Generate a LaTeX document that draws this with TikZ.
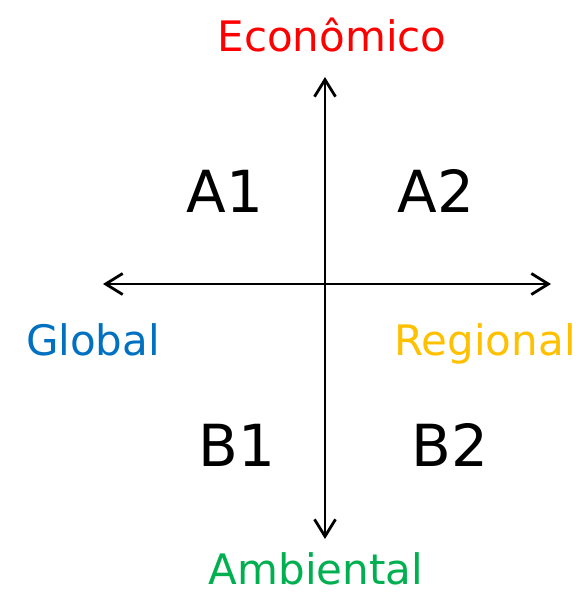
\documentclass[tikz,border=0pt]{standalone}
\usepackage{fontspec}
\setmainfont{DejaVu Sans}
\usepackage{tikz}
\usetikzlibrary{arrows.meta}
\definecolor{eco}{RGB}{255,0,0}
\definecolor{amb}{RGB}{0,176,80}
\definecolor{glob}{RGB}{0,112,192}
\definecolor{reg}{RGB}{255,192,0}

\begin{document}
\begin{tikzpicture}[x=1pt,y=-1pt,
  ax/.style={line width=2.8pt,
             {Straight Barb[length=17pt,width=21pt]}-{Straight Barb[length=17pt,width=21pt]}},
  lbl/.style={inner sep=0pt,anchor=base,font=\fontsize{42}{42}\selectfont},
  quad/.style={inner sep=0pt,anchor=base,font=\fontsize{58}{58}\selectfont}]
\useasboundingbox (0,0) rectangle (581,596);

\coordinate (top) at (325,77);
\coordinate (bot) at (325,539);
\coordinate (lft) at (103,284);
\coordinate (rgt) at (551,284);

\draw[ax] (top) -- (bot);
\draw[ax] (lft) -- (rgt);

\node[lbl,text=eco] (eco) at (332,52) {Econômico};
\node[lbl,text=amb] (amb) at (316,584) {Ambiental};
\node[lbl,text=glob] (glob) at (93,355) {Global};
\node[lbl,text=reg] (reg) at (485,355) {Regional};

\node[quad] (a1) at (225,212) {A1};
\node[quad] (a2) at (436,212) {A2};
\node[quad] (b1) at (237,466) {B1};
\node[quad] (b2) at (450,466) {B2};
\end{tikzpicture}
\end{document}
